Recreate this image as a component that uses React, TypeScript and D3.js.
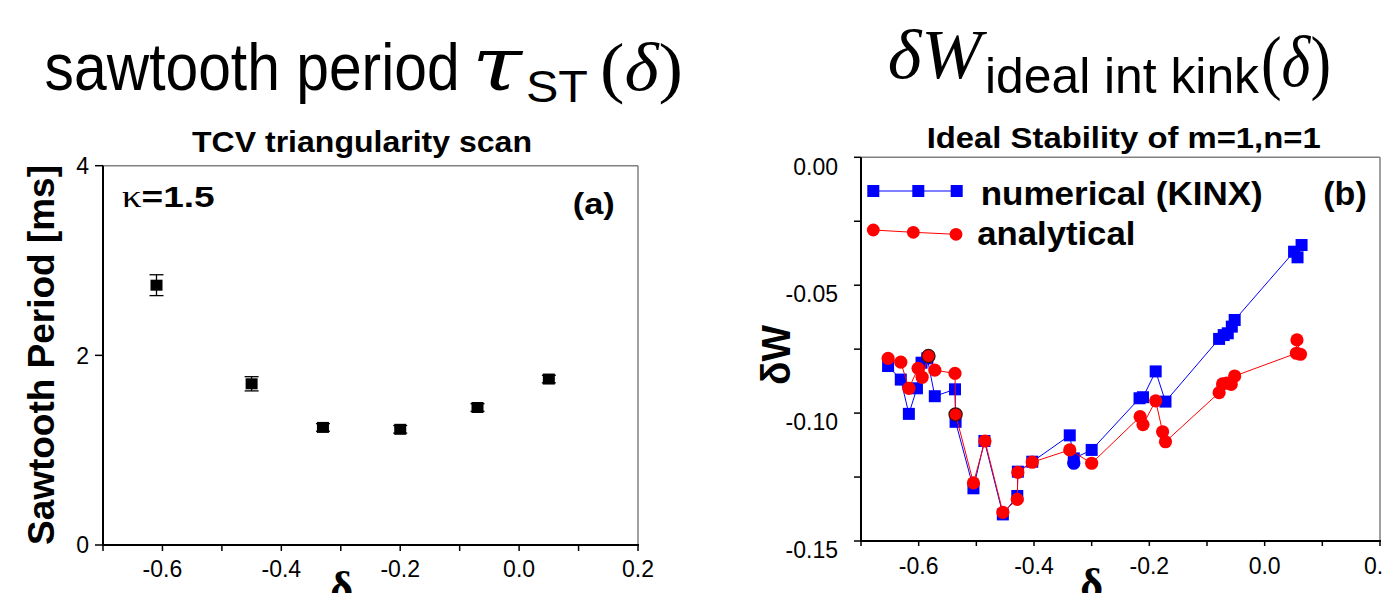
import React from "react";
import * as d3 from "d3";

// TCV triangularity scan: sawtooth period against triangularity
const scanDelta = [-0.61, -0.45, -0.33, -0.2, -0.07, 0.05];
const scanPeriod = [2.74, 1.7, 1.24, 1.22, 1.45, 1.75];
const scanPeriodErr = [0.11, 0.075, 0.04, 0.04, 0.04, 0.04];
const periodTicks = [0, 2, 4];
const deltaTicks = [-0.6, -0.4, -0.2, 0.0, 0.2];
const deltaMinorTicks = [-0.7, -0.6, -0.5, -0.4, -0.3, -0.2, -0.1, 0.0, 0.1, 0.2];

// Ideal stability of the m=1,n=1 internal kink
const kinxDelta = [
  -0.653, -0.631, -0.617, -0.603, -0.595, -0.585, -0.572, -0.537, -0.536, -0.505,
  -0.486, -0.454, -0.429, -0.428, -0.403, -0.338, -0.331, -0.3, -0.217, -0.211,
  -0.189, -0.172, -0.079, -0.071, -0.064, -0.057, -0.052, 0.051, 0.057, 0.064,
];
const kinxDW = [
  -0.0816, -0.0869, -0.1003, -0.0903, -0.0803, -0.0786, -0.0934, -0.0907, -0.1034, -0.1294,
  -0.1109, -0.1396, -0.1324, -0.1229, -0.119, -0.1087, -0.1177, -0.1144, -0.0942, -0.0938,
  -0.0837, -0.0955, -0.071, -0.0695, -0.0688, -0.0662, -0.0636, -0.0369, -0.0391, -0.0343,
];
const kinxRoundDelta = [-0.331];
const kinxRoundDW = [-0.1196];

const analyticDelta = [
  -0.653, -0.631, -0.617, -0.601, -0.594, -0.583, -0.572, -0.537, -0.536, -0.505,
  -0.485, -0.454, -0.429, -0.428, -0.403, -0.338, -0.3, -0.216, -0.211, -0.189,
  -0.177, -0.172, -0.079, -0.073, -0.066, -0.058, -0.052, 0.055, 0.056, 0.062,
];
const analyticDW = [
  -0.0786, -0.0801, -0.0903, -0.0825, -0.086, -0.0777, -0.0832, -0.0845, -0.1005, -0.1273,
  -0.1109, -0.1388, -0.1337, -0.1232, -0.1192, -0.1144, -0.1196, -0.1014, -0.1045, -0.0952,
  -0.1073, -0.1112, -0.092, -0.0886, -0.0883, -0.0888, -0.0855, -0.0766, -0.0714, -0.077,
];
const analyticEdged = [5, 8];
const dWTicks = [0, -0.05, -0.1, -0.15];
const dWMinorTicks = [0, -0.025, -0.05, -0.075, -0.1, -0.125, -0.15];

const SANS = "'Liberation Sans', Arial, Helvetica, sans-serif";
const SERIF = "'Liberation Serif', 'Times New Roman', serif";
const BLUE = "#0000ff";
const RED = "#ff0000";

export default function App() {
  // panel (a)
  const xA = d3.scaleLinear().domain([-0.7, 0.2]).range([103, 638]);
  const yA = d3.scaleLinear().domain([0, 4]).range([545, 165.7]);
  // panel (b)
  const xB = d3.scaleLinear().domain([-0.7, 0.2]).range([861, 1380]);
  const yB = d3.scaleLinear().domain([-0.15, 0]).range([541, 157.3]);

  const kinx = kinxDelta.map((d, i) => [d, kinxDW[i]] as [number, number]);
  const analytic = analyticDelta.map((d, i) => [d, analyticDW[i]] as [number, number]);
  const lineB = d3
    .line<[number, number]>()
    .x((p) => xB(p[0]))
    .y((p) => yB(p[1]));

  const [a0, a1] = xA.range();
  const [aBot, aTop] = yA.range();
  const [b0, b1] = xB.range();
  const [bBot, bTop] = yB.range();

  const sq = 12;
  const rc = 6.6;
  const legendBlue = [873.3, 918.3, 956.7];
  const legendRed: [number, number][] = [
    [873.3, 230],
    [913.3, 232.3],
    [956, 234.3],
  ];

  return (
    <svg
      width={1383}
      height={593}
      style={{ position: "absolute", left: 0, top: 0, background: "#fff" }}
    >
      <rect width={1383} height={593} fill="#fff" />

      {/* ===== Headline titles ===== */}
      <text x={44.6} y={90} fontFamily={SANS} fontSize={66} textLength={415} lengthAdjust="spacingAndGlyphs">
        sawtooth period
      </text>
      <text x={472} y={90} fontFamily="'DejaVu Serif', serif" fontSize={74} fontStyle="italic" textLength={50} lengthAdjust="spacingAndGlyphs">
        τ
      </text>
      <text x={526} y={102} fontFamily={SANS} fontSize={44} textLength={62} lengthAdjust="spacingAndGlyphs">
        ST
      </text>
      <text x={600} y={90} fontFamily={SERIF} fontSize={68} textLength={83} lengthAdjust="spacingAndGlyphs">
        (<tspan fontStyle="italic">δ</tspan>)
      </text>

      <text x={887.7} y={78.3} fontFamily={SERIF} fontSize={70} fontStyle="italic" textLength={94} lengthAdjust="spacingAndGlyphs">
        δW
      </text>
      <text x={985} y={93.3} fontFamily={SANS} fontSize={50} textLength={274} lengthAdjust="spacingAndGlyphs">
        ideal int kink
      </text>
      <text x={1261} y={86} fontFamily={SERIF} fontSize={72} textLength={70} lengthAdjust="spacingAndGlyphs">
        (<tspan fontStyle="italic">δ</tspan>)
      </text>

      {/* ===== Panel (a) ===== */}
      <text x={192} y={151.7} fontFamily={SANS} fontWeight="bold" fontSize={30} textLength={340} lengthAdjust="spacingAndGlyphs">
        TCV triangularity scan
      </text>
      {/* frame */}
      <line x1={a0} x2={a1} y1={aTop} y2={aTop} stroke="#808080" strokeWidth={1.5} />
      <line x1={a1} x2={a1} y1={aTop} y2={aBot} stroke="#808080" strokeWidth={1.5} />
      <line x1={a0} x2={a0} y1={aTop} y2={aBot + 1} stroke="#000" strokeWidth={2} />
      <line x1={a0 - 1} x2={a1 + 1} y1={aBot} y2={aBot} stroke="#000" strokeWidth={2} />
      {periodTicks.map((t) => (
        <g key={"pa" + t}>
          <line x1={a0 - 8} x2={a0} y1={yA(t)} y2={yA(t)} stroke="#000" strokeWidth={1.5} />
          <text x={89} y={yA(t)} dy="0.36em" textAnchor="end" fontFamily={SANS} fontSize={23}>
            {String(t)}
          </text>
        </g>
      ))}
      {deltaMinorTicks.map((t) => (
        <line key={"ma" + t} x1={xA(t)} x2={xA(t)} y1={aBot} y2={aBot + 6} stroke="#000" strokeWidth={1.5} />
      ))}
      {deltaTicks.map((t) => (
        <text key={"la" + t} x={xA(t)} y={577} textAnchor="middle" fontFamily={SANS} fontSize={23}>
          {t.toFixed(1)}
        </text>
      ))}
      <text x={341.7} y={602} textAnchor="middle" fontFamily={SERIF} fontWeight="bold" fontSize={44}>
        δ
      </text>
      <text
        transform="translate(54,355) rotate(-90)"
        textAnchor="middle"
        fontFamily={SANS}
        fontWeight="bold"
        fontSize={37}
        textLength={380}
        lengthAdjust="spacingAndGlyphs"
      >
        Sawtooth Period [ms]
      </text>
      <text x={121.7} y={206.7} fontFamily={SANS} fontWeight="bold" fontSize={30} textLength={93} lengthAdjust="spacingAndGlyphs">
        <tspan fontFamily={SERIF} fontWeight="normal" fontSize={32}>κ</tspan>=1.5
      </text>
      <text x={572.7} y={214} fontFamily={SANS} fontWeight="bold" fontSize={30} textLength={42} lengthAdjust="spacingAndGlyphs">
        (a)
      </text>
      {scanDelta.map((d, i) => {
        const cx = xA(d);
        const yHi = yA(scanPeriod[i] + scanPeriodErr[i]);
        const yLo = yA(scanPeriod[i] - scanPeriodErr[i]);
        return (
          <g key={"pt" + i}>
            <line x1={cx} x2={cx} y1={yHi} y2={yLo} stroke="#000" strokeWidth={1.3} />
            <line x1={cx - 7} x2={cx + 7} y1={yHi} y2={yHi} stroke="#000" strokeWidth={1.3} />
            <line x1={cx - 7} x2={cx + 7} y1={yLo} y2={yLo} stroke="#000" strokeWidth={1.3} />
            <rect x={cx - 6} y={yA(scanPeriod[i]) - 5.5} width={12} height={11} fill="#000" />
          </g>
        );
      })}

      {/* ===== Panel (b) ===== */}
      <text x={926.7} y={148.3} fontFamily={SANS} fontWeight="bold" fontSize={30} textLength={394} lengthAdjust="spacingAndGlyphs">
        Ideal Stability of m=1,n=1
      </text>
      <line x1={b0} x2={b1} y1={bTop} y2={bTop} stroke="#808080" strokeWidth={1.5} />
      <line x1={b1} x2={b1} y1={bTop} y2={bBot} stroke="#808080" strokeWidth={1.5} />
      <line x1={b0} x2={b0} y1={bTop} y2={bBot + 1} stroke="#000" strokeWidth={2} />
      <line x1={b0 - 1} x2={b1 + 1} y1={bBot} y2={bBot} stroke="#000" strokeWidth={2} />
      {dWMinorTicks.map((t) => (
        <line key={"mb" + t} x1={b0 - 7} x2={b0} y1={yB(t)} y2={yB(t)} stroke="#000" strokeWidth={1.5} />
      ))}
      {dWTicks.map((t) => (
        <text key={"lb" + t} x={838} y={yB(t) + 9} dy="0.36em" textAnchor="end" fontFamily={SANS} fontSize={23}>
          {t.toFixed(2)}
        </text>
      ))}
      {deltaMinorTicks.map((t) => (
        <line key={"xb" + t} x1={xB(t)} x2={xB(t)} y1={bBot} y2={bBot + 5} stroke="#000" strokeWidth={1.5} />
      ))}
      {deltaTicks.map((t) => (
        <text key={"xl" + t} x={xB(t)} y={574} textAnchor="middle" fontFamily={SANS} fontSize={23}>
          {t.toFixed(1)}
        </text>
      ))}
      <text x={1091.7} y={599} textAnchor="middle" fontFamily={SERIF} fontWeight="bold" fontSize={44}>
        δ
      </text>
      <text
        transform="translate(790,355) rotate(-90)"
        textAnchor="middle"
        fontFamily={SANS}
        fontWeight="bold"
        fontSize={40}
        textLength={60}
        lengthAdjust="spacingAndGlyphs"
      >
        δW
      </text>

      {/* numerical (KINX) series */}
      <path d={lineB(kinx) || ""} fill="none" stroke={BLUE} strokeWidth={1} />
      {kinx.map((p, i) => (
        <rect key={"k" + i} x={xB(p[0]) - sq / 2} y={yB(p[1]) - sq / 2} width={sq} height={sq} fill={BLUE} />
      ))}
      {kinxRoundDelta.map((d, i) => (
        <circle key={"kr" + i} cx={xB(d)} cy={yB(kinxRoundDW[i])} r={rc} fill={BLUE} />
      ))}

      {/* analytical series */}
      <path d={lineB(analytic) || ""} fill="none" stroke={RED} strokeWidth={1} />
      {analytic.map((p, i) => (
        <circle
          key={"a" + i}
          cx={xB(p[0])}
          cy={yB(p[1])}
          r={rc}
          fill={RED}
          stroke={analyticEdged.includes(i) ? "#3a1010" : "none"}
          strokeWidth={1.2}
        />
      ))}

      {/* legend */}
      <line x1={legendBlue[0]} x2={legendBlue[2]} y1={191} y2={191} stroke={BLUE} strokeWidth={1} />
      {legendBlue.map((lx, i) => (
        <rect key={"lgb" + i} x={lx - 6} y={185} width={12} height={12} fill={BLUE} />
      ))}
      <polyline points={legendRed.map((p) => p.join(",")).join(" ")} fill="none" stroke={RED} strokeWidth={1} />
      {legendRed.map((p, i) => (
        <circle key={"lgr" + i} cx={p[0]} cy={p[1]} r={6.4} fill={RED} />
      ))}
      <text x={980.7} y={205} fontFamily={SANS} fontWeight="bold" fontSize={34} textLength={282} lengthAdjust="spacingAndGlyphs">
        numerical (KINX)
      </text>
      <text x={977.3} y={245} fontFamily={SANS} fontWeight="bold" fontSize={34} textLength={158} lengthAdjust="spacingAndGlyphs">
        analytical
      </text>
      <text x={1323.3} y={204.5} fontFamily={SANS} fontWeight="bold" fontSize={34}>
        (b)
      </text>
    </svg>
  );
}
